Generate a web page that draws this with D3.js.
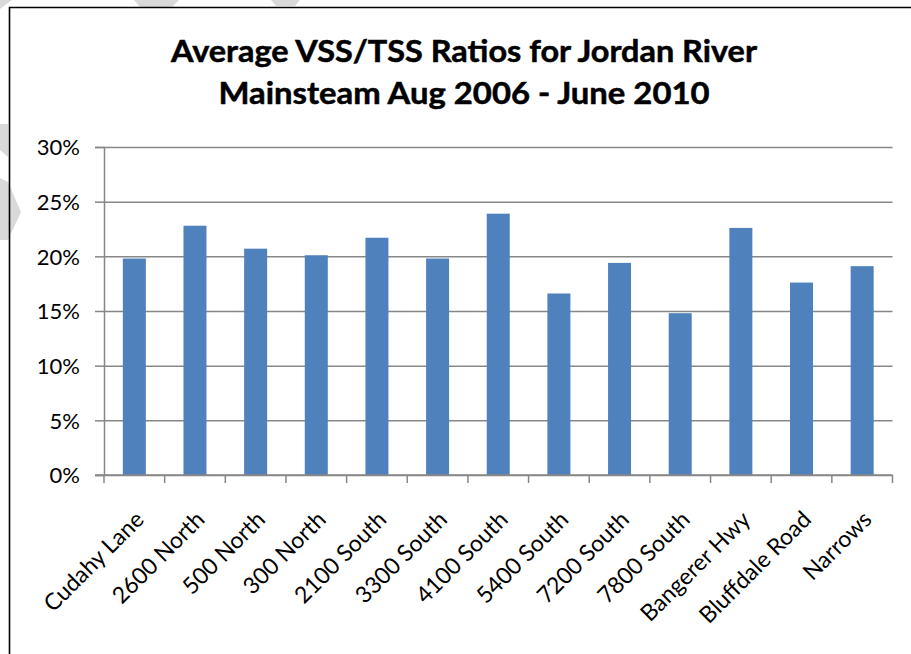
<!DOCTYPE html>
<html>
<head>
<meta charset="utf-8">
<script src="https://cdn.jsdelivr.net/npm/d3@7"></script>
<style>
  html, body { margin: 0; padding: 0; background: #fff; }
  svg { display: block; }
  text { font-family: Lato, "Open Sans", sans-serif; fill: #000; }
</style>
</head>
<body>
<div id="chart"></div>
<script>
// Sites along the mainstem, in the order of the sheet
var sites = ['Cudahy Lane', '2600 North', '500 North', '300 North', '2100 South',
    '3300 South', '4100 South', '5400 South', '7200 South', '7800 South',
    'Bangerer Hwy', 'Bluffdale Road', 'Narrows'];
// Average VSS/TSS ratio per site (fraction)
var ratios = [0.198, 0.228, 0.207, 0.201, 0.217, 0.198, 0.239, 0.166, 0.194,
    0.148, 0.226, 0.176, 0.191];
var yTicks = [0, 0.05, 0.10, 0.15, 0.20, 0.25, 0.30];
var titleLines = ['Average VSS/TSS Ratios for Jordan River', 'Mainsteam Aug 2006 - June 2010'];

var width = 911, height = 654;
var plot = {left: 104, right: 892.5, top: 147, bottom: 475};
var gridColor = '#878787';

var svg = d3.select('#chart').append('svg')
    .attr('width', width).attr('height', height);

// faint scraps of the page watermark that show around the edge
var scraps = [
    [[0, 0], [12, 0], [0, 9]],
    [[134, 0], [179, 0], [171, 8], [141, 8]],
    [[271, 0], [300, 0], [295, 6], [276, 6]],
    [[0, 124], [8, 124], [8, 157], [0, 150]],
    [[0, 178], [8, 182], [21, 212], [8, 240], [0, 240]]
];
svg.append('g').selectAll('polygon').data(scraps).enter().append('polygon')
    .attr('points', function(d) { return d.join(' '); })
    .attr('fill', '#d9d9d9');

// chart area border (runs off the right/bottom of the picture)
svg.append('path')
    .attr('d', 'M9.5,' + height + 'V7.5H' + width)
    .attr('fill', 'none').attr('stroke', '#000').attr('stroke-width', 1.6);

// Title
svg.append('g').selectAll('text').data(titleLines).enter().append('text')
    .attr('x', 464)
    .attr('y', function(d, i) { return 62 + i * 42; })
    .attr('text-anchor', 'middle')
    .attr('font-size', 30)
    .attr('font-weight', 'bold')
    .attr('stroke', '#000').attr('stroke-width', 0.5)
    .attr('textLength', function(d, i) { return i == 0 ? 586 : 491; })
    .attr('lengthAdjust', 'spacingAndGlyphs')
    .text(function(d) { return d; });

var x = d3.scaleBand().domain(sites).range([plot.left, plot.right]).padding(0);
var y = d3.scaleLinear().domain([0, 0.30]).range([plot.bottom, plot.top]);

// gridlines + y axis
var yAxis = d3.axisLeft(y).tickValues(yTicks).tickFormat(d3.format('.0%'))
    .tickSize(9).tickPadding(15);
var gy = svg.append('g').attr('transform', 'translate(' + plot.left + ',0)').call(yAxis);
gy.select('.domain').attr('stroke', gridColor).attr('stroke-width', 1.5);
gy.selectAll('.tick line').attr('stroke', gridColor).attr('stroke-width', 1.5);
gy.selectAll('.tick text').attr('font-size', 22).attr('font-family', 'Lato, sans-serif')
    .attr('dy', '0.36em');
gy.selectAll('.tick').append('line')
    .attr('x1', 0).attr('x2', plot.right - plot.left)
    .attr('stroke', gridColor).attr('stroke-width', 1.5);

// bars
var barW = 23;
svg.append('g').selectAll('rect').data(ratios).enter().append('rect')
    .attr('x', function(d, i) { return x(sites[i]) + x.bandwidth() / 2 - barW / 2; })
    .attr('y', function(d) { return y(d); })
    .attr('width', barW)
    .attr('height', function(d) { return y(0) - y(d); })
    .attr('fill', '#4f81bd');

// x axis: ticks at category boundaries
var bounds = sites.map(function(s) { return x(s); }).concat([plot.right]);
var gx = svg.append('g');
gx.append('line')
    .attr('x1', plot.left - 9).attr('x2', plot.right)
    .attr('y1', plot.bottom).attr('y2', plot.bottom)
    .attr('stroke', gridColor).attr('stroke-width', 1.5);
gx.selectAll('line.tk').data(bounds).enter().append('line').attr('class', 'tk')
    .attr('x1', function(d) { return d; }).attr('x2', function(d) { return d; })
    .attr('y1', plot.bottom).attr('y2', plot.bottom + 8)
    .attr('stroke', gridColor).attr('stroke-width', 1.5);

gx.selectAll('text').data(sites).enter().append('text')
    .attr('transform', function(d) {
        return 'translate(' + (x(d) + x.bandwidth() / 2 + 11) + ',' + 521 + ') rotate(-45)';
    })
    .attr('text-anchor', 'end')
    .attr('font-size', 23)
    .text(function(d) { return d; });
</script>
</body>
</html>
